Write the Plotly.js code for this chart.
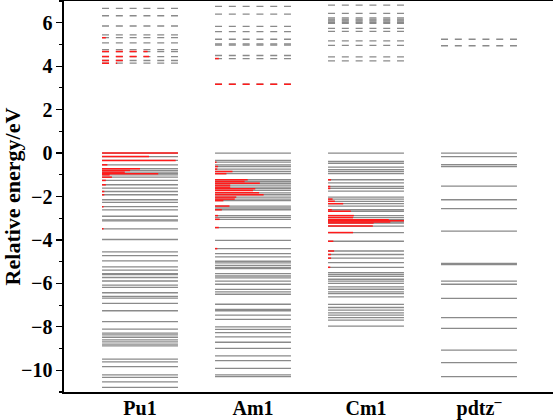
<!DOCTYPE html>
<html>
<head>
<meta charset="utf-8">
<script src="https://cdn.plot.ly/plotly-3.0.1.min.js"></script>
<style>html,body{margin:0;padding:0;background:#fff;}#chart{width:553px;height:420px;}</style>
</head>
<body>
<div id="chart"></div>
<script>
// ---------- data ----------
const categories = ['Pu1', 'Am1', 'Cm1', 'pdtz<sup>–</sup>'];
const tickValues = [-10, -8, -6, -4, -2, 0, 2, 4, 6];

// occupied levels (eV) and fraction of actinide (red) character
const pu1Occ = [0.0, -0.16, -0.34, -0.54, -0.72, -0.80, -0.88, -0.95, -1.0, -1.11, -1.26, -1.46, -1.61, -1.77, -1.92, -2.15, -2.27, -2.47, -2.62, -2.91, -3.08, -3.12, -3.49, -3.98, -4.55, -4.72, -4.96, -5.24, -5.39, -5.55, -5.59, -5.73, -5.89, -6.08, -6.18, -6.43, -6.60, -6.68, -6.92, -7.26, -7.76, -8.11, -8.29, -8.37, -8.48, -8.60, -8.69, -8.80, -8.88, -9.49, -9.61, -9.83, -10.21, -10.33, -10.53, -10.79];
const pu1OccRed = [1.0, 0.62, 0.97, 0.07, 0.5, 0.37, 0.3, 0.74, 0.1, 0.13, 0.05, 0.05, 0, 0.03, 0.03, 0, 0, 0.02, 0, 0, 0, 0, 0.02, 0, 0, 0, 0, 0, 0, 0, 0, 0, 0, 0, 0, 0, 0, 0, 0, 0, 0, 0, 0, 0, 0, 0, 0, 0, 0, 0, 0, 0, 0, 0, 0, 0];
const am1Occ = [0.0, -0.34, -0.42, -0.54, -0.62, -0.74, -0.85, -0.95, -1.23, -1.31, -1.39, -1.48, -1.57, -1.64, -1.72, -1.83, -1.92, -2.03, -2.12, -2.19, -2.44, -2.53, -2.61, -2.88, -2.96, -3.05, -3.43, -4.02, -4.40, -4.63, -4.78, -4.98, -5.06, -5.17, -5.26, -5.32, -5.55, -5.66, -5.75, -5.90, -6.04, -6.28, -6.39, -6.50, -6.96, -7.20, -7.26, -7.46, -7.66, -8.00, -8.12, -8.27, -8.46, -8.71, -8.99, -9.34, -9.56, -9.91, -10.21, -10.29];
const am1OccRed = [0, 0, 0.02, 0, 0.04, 0.03, 0.23, 0.15, 0.43, 0.39, 0.59, 0.2, 0.2, 0.53, 0.5, 0.58, 0.64, 0.28, 0.26, 0.11, 0.19, 0, 0.09, 0.04, 0, 0.06, 0.05, 0, 0.03, 0, 0, 0, 0, 0, 0, 0, 0, 0, 0, 0, 0, 0, 0, 0, 0, 0, 0, 0, 0, 0, 0, 0, 0, 0, 0, 0, 0, 0, 0, 0];
const cm1Occ = [0.0, -0.38, -0.47, -0.65, -0.76, -0.85, -0.95, -1.23, -1.37, -1.54, -1.63, -1.75, -2.03, -2.12, -2.22, -2.33, -2.44, -2.61, -2.68, -2.88, -2.97, -3.07, -3.12, -3.17, -3.22, -3.36, -3.66, -4.06, -4.51, -4.67, -4.84, -5.04, -5.26, -5.50, -5.59, -5.68, -5.81, -5.90, -6.00, -6.16, -6.27, -6.39, -6.47, -6.62, -6.97, -7.11, -7.23, -7.36, -7.46, -7.58, -7.69, -7.97];
const cm1OccRed = [0, 0, 0, 0, 0, 0, 0, 0.04, 0, 0.03, 0.03, 0, 0, 0.06, 0.09, 0.2, 0, 0.05, 0.3, 0.34, 0.33, 0.8, 1.0, 0.82, 0.6, 0.59, 0.33, 0.07, 0.08, 0.04, 0.04, 0, 0.03, 0, 0, 0, 0, 0, 0, 0, 0, 0, 0, 0, 0, 0, 0, 0, 0, 0, 0, 0];
const pdtzOcc = [0.0, -0.16, -0.53, -0.62, -1.52, -2.15, -2.56, -3.59, -5.08, -5.14, -5.90, -6.04, -6.69, -7.58, -8.07, -9.07, -9.65, -10.29];
const pdtzOccRed = [0, 0, 0, 0, 0, 0, 0, 0, 0, 0, 0, 0, 0, 0, 0, 0, 0, 0];

// unoccupied levels (eV)
const pu1Virt = [6.66, 6.32, 5.85, 5.44, 5.31, 5.07, 4.76, 4.67, 4.44, 4.26, 4.14];
const pu1VirtRed = [0, 0, 0, 0, 0.05, 0, 0, 0.6, 0.62, 0.3, 0.2];
const am1Virt = [6.75, 6.40, 5.83, 5.59, 5.24, 5.02, 4.97, 4.49, 4.35, 3.17];
const am1VirtRed = [0, 0, 0, 0, 0, 0, 0, 0, 0.05, 1.0];
const cm1Virt = [6.81, 6.43, 6.22, 6.17, 6.12, 6.07, 6.02, 5.97, 5.74, 5.60, 5.16, 4.96, 4.43, 4.24];
const cm1VirtRed = [0, 0, 0, 0, 0, 0, 0, 0, 0, 0, 0, 0, 0, 0];
const pdtzVirt = [5.24, 4.94];
const pdtzVirtRed = [0, 0];

// ---------- drawing ----------
const occ = [pu1Occ, am1Occ, cm1Occ, pdtzOcc];
const occRed = [pu1OccRed, am1OccRed, cm1OccRed, pdtzOccRed];
const virt = [pu1Virt, am1Virt, cm1Virt, pdtzVirt];
const virtRed = [pu1VirtRed, am1VirtRed, cm1VirtRed, pdtzVirtRed];
const HALF = 0.336;
const GRAY = '#8a8a8a';
const RED = '#ff1a1a';
const DASH = '7px,6.8px';

function segs(groups, fracGroups, useFrac) {
  const x = [], y = [];
  groups.forEach((arr, ci) => {
    const c = ci + 1;
    arr.forEach((e, i) => {
      let f = 1;
      if (useFrac) { f = fracGroups[ci][i]; if (!f) return; }
      x.push(c - HALF, c - HALF + 2 * HALF * f, null);
      y.push(e, e, null);
    });
  });
  return {x, y};
}

const traces = [];
const g1 = segs(occ, null, false);
traces.push({x: g1.x, y: g1.y, mode: 'lines', line: {color: GRAY, width: 1.3}, hoverinfo: 'skip', connectgaps: false});
const g2 = segs(virt, null, false);
traces.push({x: g2.x, y: g2.y, mode: 'lines', line: {color: GRAY, width: 1.3, dash: DASH}, hoverinfo: 'skip', connectgaps: false});
const r1 = segs(occ, occRed, true);
traces.push({x: r1.x, y: r1.y, mode: 'lines', line: {color: RED, width: 1.5}, hoverinfo: 'skip', connectgaps: false});
const r2 = segs(virt, virtRed, true);
traces.push({x: r2.x, y: r2.y, mode: 'lines', line: {color: RED, width: 1.5, dash: DASH}, hoverinfo: 'skip', connectgaps: false});

const fontFam = '"Liberation Serif", "Times New Roman", serif';
const layout = {
  width: 553, height: 420,
  margin: {l: 64, r: 0, t: 1, b: 28},
  paper_bgcolor: '#fff', plot_bgcolor: '#fff',
  showlegend: false,
  xaxis: {
    range: [0.3274, 4.655],
    tickvals: [1, 2, 3, 4],
    ticktext: categories.map(c => '<b>' + c + '</b>'),
    ticks: '', showgrid: false, zeroline: false,
    showline: true, linecolor: '#000', linewidth: 1.6, mirror: true,
    tickfont: {family: fontFam, size: 20, color: '#000'},
    ticklabelstandoff: -3,
    fixedrange: true
  },
  yaxis: {
    range: [-11, 7],
    tickvals: tickValues,
    ticks: 'outside', ticklen: 6, tickwidth: 1.3, tickcolor: '#000',
    minor: {dtick: 1, ticks: 'outside', ticklen: 3, tickwidth: 1.1, tickcolor: '#000'},
    showgrid: false, zeroline: false,
    showline: true, linecolor: '#000', linewidth: 1.6,
    tickfont: {family: fontFam, size: 20, color: '#000', weight: 'bold'},
    title: {text: '<b>Relative energy/eV</b>', font: {family: fontFam, size: 22, color: '#000'}, standoff: 4},
    fixedrange: true
  }
};

Plotly.newPlot('chart', traces, layout, {staticPlot: true, displayModeBar: false});
</script>
</body>
</html>
